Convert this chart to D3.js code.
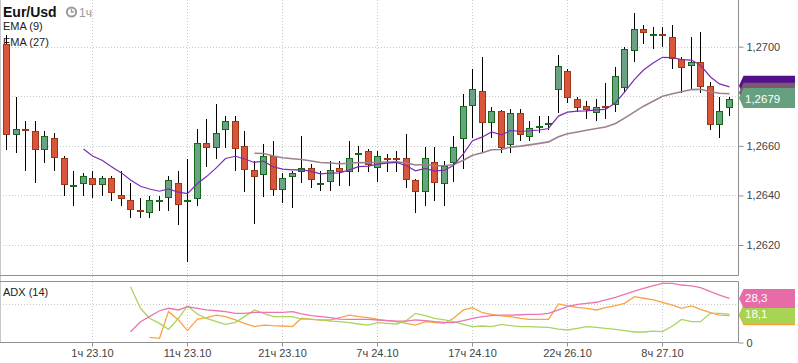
<!DOCTYPE html>
<html><head><meta charset="utf-8">
<script src="https://cdn.jsdelivr.net/npm/d3@7"></script>
<style>body{margin:0;background:#fff;} svg{display:block;font-family:"Liberation Sans",Arial,sans-serif;}</style>
</head><body><svg id="c" width="798" height="363"></svg>
<script>
const categories = [
"16ч 22.10","17ч 22.10","18ч 22.10","19ч 22.10","20ч 22.10","21ч 22.10","22ч 22.10","23ч 22.10",
"0ч 23.10","1ч 23.10","2ч 23.10","3ч 23.10","4ч 23.10","5ч 23.10","6ч 23.10","7ч 23.10","8ч 23.10","9ч 23.10","10ч 23.10",
"11ч 23.10","12ч 23.10","13ч 23.10","14ч 23.10","15ч 23.10","16ч 23.10","17ч 23.10","18ч 23.10","19ч 23.10","20ч 23.10",
"21ч 23.10","22ч 23.10","23ч 23.10","0ч 24.10","1ч 24.10","2ч 24.10","3ч 24.10","4ч 24.10","5ч 24.10","6ч 24.10",
"7ч 24.10","8ч 24.10","9ч 24.10","10ч 24.10","11ч 24.10","12ч 24.10","13ч 24.10","14ч 24.10","15ч 24.10","16ч 24.10",
"17ч 24.10","18ч 24.10","19ч 24.10","20ч 24.10","21ч 24.10","22ч 24.10","23ч 24.10","0ч 25.10","1ч 25.10","2ч 25.10",
"22ч 26.10","23ч 26.10","0ч 27.10","1ч 27.10","2ч 27.10","3ч 27.10","4ч 27.10","5ч 27.10","6ч 27.10","7ч 27.10",
"8ч 27.10","9ч 27.10","10ч 27.10","11ч 27.10","12ч 27.10","13ч 27.10","14ч 27.10","15ч 27.10"];
const xTickLabels = ["1ч 23.10","11ч 23.10","21ч 23.10","7ч 24.10","17ч 24.10","22ч 26.10","8ч 27.10"];

const open = [1.27011,1.26647,1.26669,1.26660,1.26586,1.26631,1.26550,1.26437,1.26449,1.26469,
1.26445,1.26469,1.26402,1.26380,1.26340,1.26334,1.26376,1.26395,1.26449,1.26376,
1.26388,1.26610,1.26597,1.26667,1.26699,1.26598,1.26503,1.26485,1.26558,1.26425,
1.26477,1.26497,1.26510,1.26445,1.26457,1.26510,1.26497,1.26566,1.26578,1.26514,
1.26549,1.26551,1.26550,1.26462,1.26417,1.26536,1.26449,1.26534,1.26630,1.26764,
1.26820,1.26696,1.26739,1.26606,1.26731,1.26640,1.26675,1.26689,1.26829,1.26901,
1.26788,1.26760,1.26736,1.26760,1.26768,1.26839,1.26985,1.27070,1.27046,1.27050,
1.27038,1.26949,1.26926,1.26937,1.26840,1.26687,1.26756];
const high = [1.27047,1.26798,1.26700,1.26700,1.26660,1.26651,1.26559,1.26499,1.26492,1.26499,
1.26480,1.26480,1.26499,1.26449,1.26388,1.26399,1.26399,1.26480,1.26499,1.26547,
1.26669,1.26707,1.26769,1.26720,1.26720,1.26660,1.26539,1.26606,1.26620,1.26492,
1.26500,1.26640,1.26526,1.26499,1.26539,1.26539,1.26620,1.26599,1.26586,1.26579,
1.26566,1.26579,1.26647,1.26465,1.26597,1.26597,1.26539,1.26640,1.26808,1.26909,
1.26960,1.26758,1.26745,1.26750,1.26750,1.26700,1.26720,1.26720,1.26966,1.26909,
1.26798,1.26780,1.26789,1.26855,1.26919,1.27000,1.27135,1.27088,1.27078,1.27078,
1.27088,1.26960,1.27038,1.27058,1.26856,1.26798,1.26798];
const low = [1.26583,1.26570,1.26500,1.26451,1.26532,1.26500,1.26399,1.26359,1.26399,1.26391,
1.26399,1.26379,1.26359,1.26310,1.26310,1.26310,1.26338,1.26338,1.26281,1.26133,
1.26359,1.26514,1.26547,1.26590,1.26500,1.26413,1.26285,1.26392,1.26399,1.26371,
1.26351,1.26451,1.26431,1.26419,1.26419,1.26439,1.26439,1.26493,1.26493,1.26453,
1.26493,1.26493,1.26431,1.26329,1.26359,1.26379,1.26359,1.26453,1.26507,1.26630,
1.26570,1.26630,1.26570,1.26570,1.26621,1.26621,1.26651,1.26664,1.26731,1.26772,
1.26738,1.26709,1.26701,1.26708,1.26738,1.26812,1.26940,1.27010,1.26990,1.27000,
1.26910,1.26812,1.26825,1.26812,1.26664,1.26630,1.26722];
const close = [1.26647,1.26669,1.26666,1.26586,1.26639,1.26556,1.26445,1.26441,1.26480,1.26445,
1.26469,1.26415,1.26388,1.26347,1.26336,1.26380,1.26380,1.26461,1.26365,1.26380,
1.26610,1.26597,1.26652,1.26699,1.26593,1.26505,1.26477,1.26558,1.26425,1.26469,
1.26489,1.26510,1.26465,1.26449,1.26503,1.26497,1.26550,1.26570,1.26526,1.26558,
1.26545,1.26547,1.26465,1.26417,1.26550,1.26453,1.26520,1.26597,1.26760,1.26828,
1.26696,1.26739,1.26594,1.26731,1.26647,1.26671,1.26679,1.26693,1.26922,1.26797,
1.26757,1.26747,1.26758,1.26756,1.26881,1.26990,1.27070,1.27058,1.27050,1.27046,
1.26953,1.26917,1.26938,1.26843,1.26687,1.26741,1.26789];

const ema9 = [null,null,null,null,null,null,null,null,
1.26587,1.26559,1.26541,1.26516,1.26491,1.26462,1.26437,1.26426,1.26417,1.26426,1.26413,1.26407,
1.26448,1.26476,1.26512,1.26549,1.26558,1.26547,1.26533,1.26538,1.26515,1.26506,
1.26503,1.26504,1.26497,1.26487,1.26490,1.26491,1.26503,1.26516,1.26518,1.26526,
1.26530,1.26533,1.26520,1.26499,1.26509,1.26498,1.26502,1.26521,1.26569,1.26621,
1.26636,1.26656,1.26644,1.26662,1.26658,1.26661,1.26664,1.26670,1.26720,1.26736,
1.26740,1.26741,1.26745,1.26747,1.26774,1.26817,1.26868,1.26906,1.26935,1.26957,
1.26956,1.26948,1.26946,1.26925,1.26878,1.26850,1.26838];
const ema27 = [null,null,null,null,null,null,null,null,null,null,null,null,null,
null,null,null,null,null,null,null,null,null,null,null,null,null,
1.26570,1.26569,1.26559,1.26552,1.26548,1.26545,1.26539,1.26533,1.26531,1.26528,
1.26530,1.26533,1.26532,1.26534,1.26535,1.26536,1.26531,1.26523,1.26525,1.26520,
1.26520,1.26525,1.26542,1.26562,1.26572,1.26584,1.26585,1.26595,1.26599,1.26604,
1.26610,1.26616,1.26637,1.26649,1.26656,1.26663,1.26670,1.26676,1.26690,1.26712,
1.26737,1.26760,1.26781,1.26800,1.26810,1.26818,1.26827,1.26828,1.26818,1.26812,1.26810];

const adx = [null,null,null,null,null,null,null,null,null,null,null,null,null,
6.7,13.2,16.5,20.3,21.9,20.8,22.9,21.9,20.8,20.3,19.7,18.6,18.6,19.3,19.3,19.3,19.3,19.7,18.2,17.1,
16.5,15.8,14.9,14.7,14.7,14.7,14.3,13.9,13.6,13.6,14.3,13.9,13.2,12.8,12.6,13.9,15.4,16.5,17.1,17.5,
17.5,17.7,18.0,18.0,18.6,20.8,22.9,24.5,25.1,25.8,27.3,29.0,31.0,33.1,34.8,36.6,38.1,38.1,37.0,36.4,
35.3,32.7,30.5,28.3];
const diMinus = [null,null,null,null,null,null,null,null,null,null,null,null,null,
35.9,21.9,15.4,12.1,8.2,15.4,23.4,18.0,15.4,13.2,11.5,12.8,16.5,20.8,18.6,16.5,16.5,16.5,14.9,14.9,
14.3,13.6,13.2,12.6,11.7,11.0,12.6,12.1,11.7,13.9,18.6,17.1,15.4,14.3,13.2,11.5,10.0,10.4,10.0,11.5,
10.6,10.0,10.0,9.7,9.5,8.4,7.8,8.9,10.0,9.5,8.9,8.2,7.4,6.5,6.5,7.1,6.7,10.4,14.7,13.2,13.2,18.6,18.6,18.1];
const diPlus = [null,null,null,null,null,null,null,null,null,null,null,null,null,null,null,
3.0,2.4,19.7,14.3,7.4,14.9,15.8,17.5,16.5,14.3,12.1,10.0,11.0,10.6,10.4,10.0,15.4,14.7,14.3,14.3,
15.8,17.5,16.5,15.8,14.7,13.9,13.2,12.1,11.0,13.2,12.8,12.1,15.4,20.8,22.3,19.0,18.0,16.9,16.5,15.4,
14.7,14.7,14.7,24.7,23.4,22.5,21.9,20.8,22.3,23.6,25.1,29.4,28.4,27.3,25.8,24.0,21.9,23.4,21.2,19.0,17.5,17.1];

const priceTicks = [1.2620, 1.2640, 1.2660, 1.2700];
const priceGrid = [1.2620, 1.2640, 1.2660, 1.2680, 1.2700];
const adxTicks = [0];
const adxGrid = [25];

// ---------- layout ----------
const svg = d3.select("#c");
const R = 738.5;
const mainTop = 0, mainBottom = 275.5, adxTop = 281.5, adxBottom = 342.5;
const frameColor = "#8f8f8f", gridColor = "#c9c9c9", textColor = "#444";
const loc = d3.formatLocale({decimal: ",", thousands: " ", grouping: [3], currency: ["", ""]});
const f4 = loc.format(".4f"), f1 = loc.format(".1f");

const x = d3.scaleBand().domain(categories).range([2.75, 734.25]).paddingInner(0.33).paddingOuter(0.165);
const cx = c => Math.floor(x(c) + x.bandwidth() / 2 - 0.5) + 0.5;
const y = d3.scaleLinear().domain([1.2620, 1.2700]).range([245, 46.7]);
const ya = d3.scaleLinear().domain([0, 25]).range([342, 303.5]);

const defs = svg.append("defs");
defs.append("clipPath").attr("id", "cm").append("rect").attr("x", 0).attr("y", mainTop).attr("width", R).attr("height", mainBottom - mainTop);
defs.append("clipPath").attr("id", "ca").append("rect").attr("x", 0).attr("y", adxTop).attr("width", R).attr("height", adxBottom - adxTop);

// gridlines
const g = svg.append("g");
g.selectAll(".hg").data(priceGrid).join("line")
  .attr("x1", 0).attr("x2", R).attr("y1", d => Math.round(y(d)) + 0.5).attr("y2", d => Math.round(y(d)) + 0.5)
  .attr("stroke", gridColor).attr("stroke-dasharray", "1,2");
g.selectAll(".ag").data(adxGrid).join("line")
  .attr("x1", 0).attr("x2", R).attr("y1", d => Math.round(ya(d)) + 0.5).attr("y2", d => Math.round(ya(d)) + 0.5)
  .attr("stroke", gridColor).attr("stroke-dasharray", "1,2");
g.selectAll(".vg").data(xTickLabels).join("line")
  .attr("x1", d => cx(d)).attr("x2", d => cx(d)).attr("y1", 0).attr("y2", adxBottom)
  .attr("stroke", gridColor).attr("stroke-dasharray", "1,2");

// frames
const fr = svg.append("g").attr("stroke", frameColor).attr("fill", "none");
fr.append("line").attr("x1", 0.5).attr("x2", 0.5).attr("y1", 0).attr("y2", adxBottom).attr("stroke", "#c8c8c8");
fr.append("line").attr("x1", R).attr("x2", R).attr("y1", 0).attr("y2", mainBottom);
fr.append("line").attr("x1", R).attr("x2", R).attr("y1", adxTop).attr("y2", adxBottom);
fr.append("line").attr("x1", 0).attr("x2", R).attr("y1", mainBottom).attr("y2", mainBottom);
fr.append("line").attr("x1", 0).attr("x2", R).attr("y1", adxTop).attr("y2", adxTop);
fr.append("line").attr("x1", 0).attr("x2", R).attr("y1", adxBottom).attr("y2", adxBottom);

// legend texts
svg.append("text").attr("x", 3).attr("y", 17).attr("font-size", 14).attr("font-weight", "bold").attr("fill", "#111").text("Eur/Usd");
const clk = svg.append("g").attr("transform", "translate(71.5,12)");
clk.append("circle").attr("r", 4.6).attr("fill", "#fff").attr("stroke", "#9a9a9a").attr("stroke-width", 2);
clk.append("path").attr("d", "M0,-3 L0,0 L2.6,0").attr("stroke", "#9a9a9a").attr("stroke-width", 1.4).attr("fill", "none");
svg.append("text").attr("x", 79).attr("y", 17).attr("font-size", 12).attr("fill", "#999").text("1ч");
svg.append("text").attr("x", 3).attr("y", 30).attr("font-size", 11).attr("fill", "#222").text("EMA (9)");
svg.append("text").attr("x", 3).attr("y", 45.5).attr("font-size", 11).attr("fill", "#222").text("EMA (27)");
svg.append("text").attr("x", 3).attr("y", 296).attr("font-size", 11).attr("fill", "#222").text("ADX (14)");

// candles
const idx = d3.range(categories.length);
const cg = svg.append("g").attr("clip-path", "url(#cm)");
cg.selectAll(".wick").data(idx).join("line")
  .attr("x1", i => cx(categories[i])).attr("x2", i => cx(categories[i]))
  .attr("y1", i => Math.round(y(high[i]))).attr("y2", i => Math.round(y(low[i])))
  .attr("stroke", "#000").attr("stroke-width", 1);
cg.selectAll(".body").data(idx).join("rect")
  .attr("x", i => cx(categories[i]) - 3)
  .attr("width", 6)
  .attr("y", i => Math.round(y(Math.max(open[i], close[i]))) + 0.5)
  .attr("height", i => Math.max(1, Math.round(y(Math.min(open[i], close[i]))) - Math.round(y(Math.max(open[i], close[i])))))
  .attr("fill", i => close[i] >= open[i] ? "#69a383" : "#d9553b")
  .attr("stroke", i => close[i] >= open[i] ? "#17691a" : "#9c3815")
  .attr("stroke-width", 1);

// EMA lines
const lineMain = arr => d3.line().defined(i => arr[i] != null).x(i => cx(categories[i])).y(i => y(arr[i]));
cg.append("path").attr("d", lineMain(ema27)(idx)).attr("fill", "none").attr("stroke", "#9a8290").attr("stroke-width", 1.6);
cg.append("path").attr("d", lineMain(ema9)(idx)).attr("fill", "none").attr("stroke", "#7c2db0").attr("stroke-width", 1.2);

// ADX lines
const ag = svg.append("g").attr("clip-path", "url(#ca)");
const lineAdx = arr => d3.line().defined(i => arr[i] != null).x(i => cx(categories[i])).y(i => ya(arr[i]));
ag.append("path").attr("d", lineAdx(diPlus)(idx)).attr("fill", "none").attr("stroke", "#f8a444").attr("stroke-width", 1.3);
ag.append("path").attr("d", lineAdx(diMinus)(idx)).attr("fill", "none").attr("stroke", "#a9d45e").attr("stroke-width", 1.3);
ag.append("path").attr("d", lineAdx(adx)(idx)).attr("fill", "none").attr("stroke", "#ec74b1").attr("stroke-width", 1.3);

// axes
const yAxis = d3.axisRight(y).tickValues(priceTicks).tickFormat(f4).tickSize(5).tickPadding(3).tickSizeOuter(0);
const ya1 = svg.append("g").attr("transform", `translate(${R},0)`).call(yAxis);
const aAxis = d3.axisRight(ya).tickValues(adxTicks).tickFormat(d3.format("d")).tickSize(5).tickPadding(3).tickSizeOuter(0);
const ya2 = svg.append("g").attr("transform", `translate(${R},0.5)`).call(aAxis);
const xAxis = d3.axisBottom(x).tickValues(xTickLabels).tickSize(4).tickPadding(3).tickSizeOuter(0);
const xa = svg.append("g").attr("transform", `translate(0,${adxBottom})`).call(xAxis);
xa.selectAll(".tick").attr("transform", d => `translate(${cx(d)},0)`);
[ya1, ya2, xa].forEach(a => {
  a.select(".domain").remove();
  a.selectAll("line").attr("stroke", frameColor);
  a.selectAll("text").attr("fill", textColor).attr("font-size", 11).attr("font-family", "'Liberation Sans',Arial,sans-serif");
});

// value flags
function flag(yc, color, label, up, down) {
  const t = yc - up, b = yc + down, m = (t + b) / 2;
  const gg = svg.append("g");
  gg.append("path").attr("d", `M739,${m} L743.5,${t} L795,${t} L795,${b} L743.5,${b} Z`).attr("fill", color);
  if (label) gg.append("text").attr("x", 745).attr("y", yc).attr("dy", "0.35em").attr("font-size", 11.5).attr("fill", "#fff").text(label);
}
const last = categories.length - 1;
flag(y(ema9[last]), "#52108a", null, 11, 9);
flag(y(ema27[last]), "#7d5873", null, 11, 9);
flag(y(close[last]), "#67a07f", f4(close[last]), 11, 9);
flag(ya(diPlus[last]), "#f6a235", null, 9.5, 9.5);
flag(ya(diMinus[last]), "#a9d352", f1(diMinus[last]), 9.5, 9.5);
flag(ya(adx[last]), "#e86ba9", f1(adx[last]), 9.5, 9.5);
</script></body></html>
